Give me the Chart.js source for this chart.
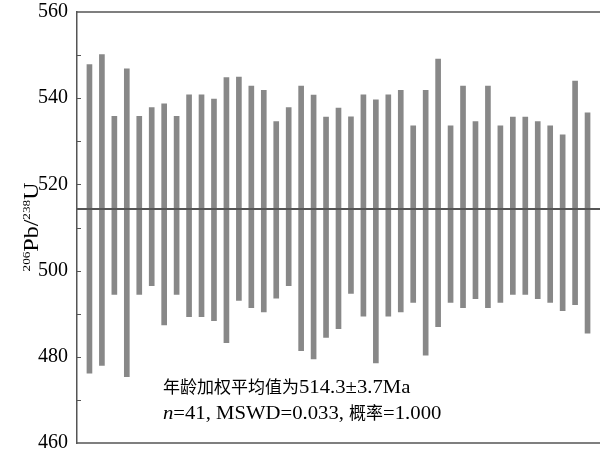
<!DOCTYPE html>
<html>
<head>
<meta charset="utf-8">
<script src="https://cdn.jsdelivr.net/npm/chart.js@4"></script>
<style>
    html, body { margin: 0; padding: 0; background: #fff; }
    #wrap { width: 601px; height: 451px; }
</style>
</head>
<body>
<div id="wrap"><canvas id="ageChart"></canvas></div>
<script>
// spot number along x, 206Pb/238U age error bars (Ma)
const spotNo = [1, 2, 3, 4, 5, 6, 7, 8, 9, 10, 11, 12, 13, 14, 15, 16, 17, 18, 19, 20,
    21, 22, 23, 24, 25, 26, 27, 28, 29, 30, 31, 32, 33, 34, 35, 36, 37, 38, 39, 40, 41];
const ageHigh = [547.8, 550.1, 535.8, 546.8, 535.8, 537.8, 538.7, 535.8, 540.8, 540.8,
    539.8, 544.8, 544.9, 542.8, 541.8, 534.6, 537.8, 542.8, 540.7, 535.6,
    537.7, 535.7, 540.8, 539.6, 540.8, 541.8, 533.6, 541.8, 549.1, 533.6,
    542.8, 534.6, 542.8, 533.6, 535.6, 535.6, 534.6, 533.6, 531.5, 544.0, 536.6];
const ageLow = [476.2, 478.0, 494.5, 475.4, 494.5, 496.5, 487.4, 494.5, 489.3, 489.3,
    488.4, 483.3, 493.1, 491.4, 490.4, 493.6, 496.5, 481.4, 479.5, 484.5,
    486.5, 494.7, 489.4, 478.6, 489.4, 490.4, 492.6, 480.4, 487.0, 492.6,
    491.4, 493.5, 491.4, 492.6, 494.5, 494.5, 493.5, 492.6, 490.7, 492.1, 485.5];
const weightedMean = 514.3;
const yMin = 460, yMax = 560, yStep = 10, yLabelStep = 20;

const LATIN = 'Liberation Serif, DejaVu Serif, serif';
const CJK = '"Noto Sans CJK SC", sans-serif';

// draw a row of text runs, latin runs stretched a bit wider like the original
function drawRuns(ctx, x, y, runs) {
    let cx = x;
    runs.forEach(r => {
        ctx.save();
        ctx.font = r.font;
        const sx = r.sx || 1;
        ctx.translate(cx, y + (r.dy || 0));
        ctx.scale(sx, 1);
        ctx.fillText(r.t, 0, 0);
        cx += ctx.measureText(r.t).width * sx;
        ctx.restore();
    });
    return cx - x;
}

function runsWidth(ctx, runs) {
    let w = 0;
    runs.forEach(r => {
        ctx.save();
        ctx.font = r.font;
        w += ctx.measureText(r.t).width * (r.sx || 1);
        ctx.restore();
    });
    return w;
}

const framePlugin = {
    id: 'frame',
    afterDraw(chart) {
        const ctx = chart.ctx;
        const area = chart.chartArea;
        const y = chart.scales.y;

        ctx.save();
        ctx.strokeStyle = '#555';

        // top and bottom frame lines
        ctx.lineWidth = 1.5;
        ctx.beginPath();
        ctx.moveTo(area.left, area.top);
        ctx.lineTo(area.right, area.top);
        ctx.moveTo(area.left, area.bottom);
        ctx.lineTo(area.right, area.bottom);
        ctx.stroke();

        // inward tick marks every 10
        ctx.lineWidth = 1;
        ctx.beginPath();
        for (let v = yMin + yStep; v < yMax; v += yStep) {
            const py = Math.round(y.getPixelForValue(v)) + 0.5;
            ctx.moveTo(area.left, py);
            ctx.lineTo(area.left + 4, py);
        }
        ctx.stroke();

        // y axis title with superscripts
        ctx.fillStyle = '#000';
        ctx.textBaseline = 'alphabetic';
        const big = '20px ' + LATIN;
        const small = '11px ' + LATIN;
        const titleRuns = [
            { t: '206', font: small, sx: 1.2, dy: -8 },
            { t: 'Pb/', font: big, sx: 1.2 },
            { t: '238', font: small, sx: 1.2, dy: -8 },
            { t: 'U', font: big, sx: 1.2 }
        ];
        const tw = runsWidth(ctx, titleRuns);
        ctx.save();
        ctx.translate(38, 227);
        ctx.rotate(-Math.PI / 2);
        drawRuns(ctx, -tw / 2, 0, titleRuns);
        ctx.restore();

        // annotation
        const lat = '18px ' + LATIN;
        const latI = 'italic 18px ' + LATIN;
        const cjk = '17px ' + CJK;
        drawRuns(ctx, 163, 393, [
            { t: '年龄加权平均值为', font: cjk },
            { t: '514.3±3.7Ma', font: lat, sx: 1.15 }
        ]);
        drawRuns(ctx, 163, 419, [
            { t: 'n', font: latI, sx: 1.15 },
            { t: '=41, MSWD=0.033, ', font: lat, sx: 1.15 },
            { t: '概率', font: cjk },
            { t: '=1.000', font: lat, sx: 1.15 }
        ]);
        ctx.restore();
    }
};

const barData = spotNo.map((s, i) => ({ x: s, y: [ageLow[i], ageHigh[i]] }));

new Chart(document.getElementById('ageChart').getContext('2d'), {
    type: 'bar',
    data: {
        datasets: [{
            type: 'line',
            label: 'weighted mean',
            data: [{ x: 0, y: weightedMean }, { x: spotNo.length + 1, y: weightedMean }],
            borderColor: '#555',
            borderWidth: 2,
            pointRadius: 0,
            order: 0
        }, {
            type: 'bar',
            label: '206Pb/238U',
            data: barData,
            backgroundColor: '#888',
            barThickness: 5,
            order: 1
        }]
    },
    options: {
        responsive: true,
        maintainAspectRatio: false,
        animation: false,
        layout: { padding: { top: 12, right: 1, bottom: 8, left: 0 } },
        plugins: {
            legend: { display: false },
            tooltip: { enabled: false }
        },
        scales: {
            x: {
                type: 'linear',
                min: 0,
                max: spotNo.length + 1,
                offset: false,
                grid: { offset: false },
                display: false
            },
            y: {
                min: yMin,
                max: yMax,
                ticks: {
                    stepSize: yStep,
                    autoSkip: false,
                    padding: 9,
                    color: '#000',
                    font: { family: LATIN, size: 20 },
                    callback: v => (v % yLabelStep === 0 ? v : '')
                },
                grid: { drawOnChartArea: false, drawTicks: false },
                border: { display: true, color: '#555', width: 1.5 },
                afterFit: s => {
                    s.width = 77;
                    s.paddingTop = 0;
                    s.paddingBottom = 0;
                }
            }
        }
    },
    plugins: [framePlugin]
});
</script>
</body>
</html>
